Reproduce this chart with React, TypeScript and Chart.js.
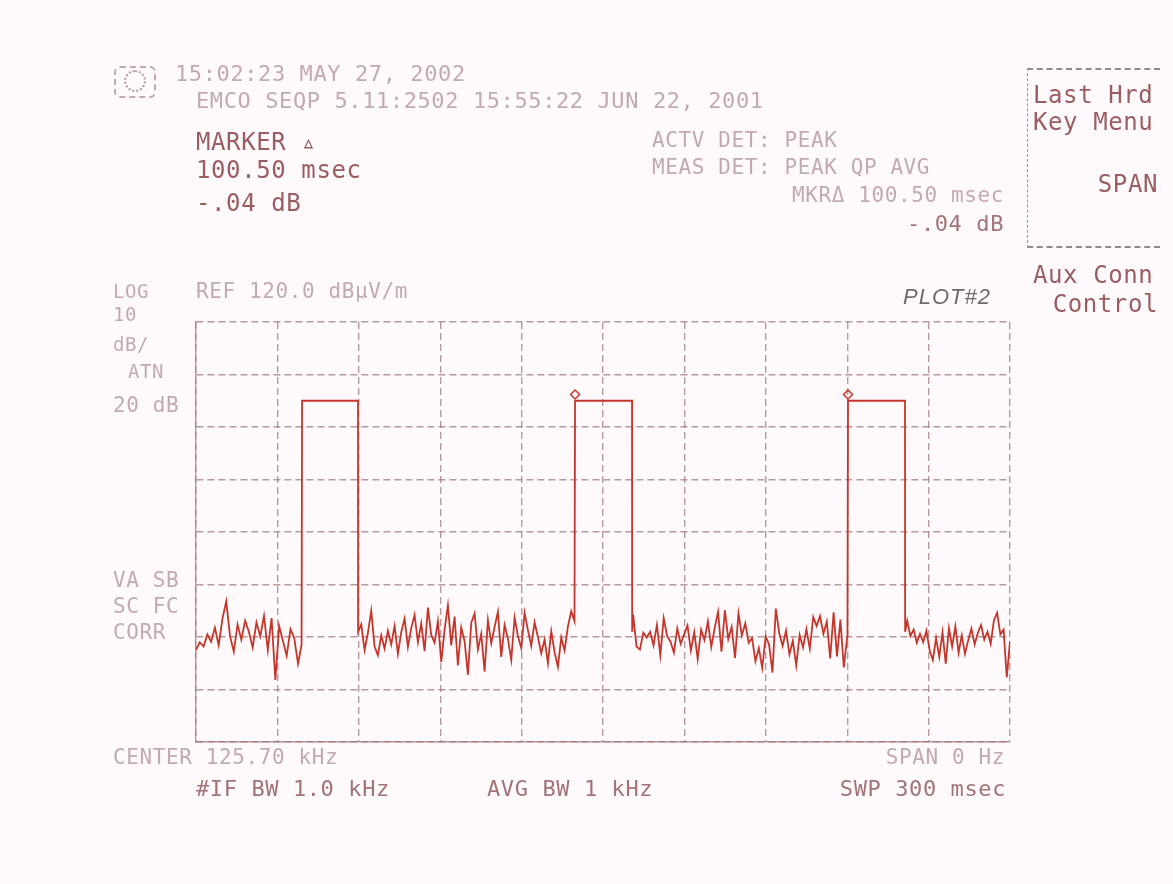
import React, { useEffect, useRef } from "react";
import { Chart, registerables } from "chart.js";

Chart.register(...registerables);

// ---- data (time in msec, level in dBµV/m) ----
const sweepMs = [0, 300];
const levelRange = [40, 120];
const xTickStep = 30;
const yTickStep = 10;

const pulseStart = [39.1, 139.7, 240.3];
const pulseEnd = [59.7, 160.7, 261.3];
const pulseLevel = 105;
const markerX = [139.7, 240.3];
const markerY = [106.2, 106.2];

const noiseBounds = [
  [0, 37.6],
  [60.9, 138.3],
  [161.1, 240.0],
  [262.1, 300],
];

const noise1 = [57.5, 59, 58.2, 60.5, 59.1, 61.8, 58.4, 63.5, 66.8, 60.2, 57.2, 62.4, 59.5, 63.1, 61.0, 58.0, 62.8, 60.1, 64.0, 57.5, 63.6, 51.8, 62.1, 59.3, 56.4, 61.5, 59.8, 54.9];
const noise2 = [62.4, 57.5, 60.8, 65.0, 58.2, 56.5, 60.3, 57.8, 61.2, 58.6, 62.1, 56.8, 60.9, 63.5, 58.1, 61.7, 64.2, 59.0, 62.6, 57.3, 65.6, 60.4, 58.9, 63.0, 55.2, 61.4, 66.0, 58.4, 63.9, 54.6, 61.8, 59.2, 52.8, 62.7, 64.5, 57.6, 60.6, 53.4, 63.2, 58.8, 61.9, 64.8, 56.2, 62.3, 59.7, 55.6, 63.7, 60.2, 57.9, 64.6, 61.3, 58.3, 62.8, 60.0, 56.9, 59.5, 55.0, 61.1, 57.1, 54.3, 59.9, 57.4, 62.0, 64.9];
const noise3 = [64.3, 58.2, 57.6, 60.8, 59.9, 61.0, 58.4, 62.3, 56.5, 63.6, 60.2, 59.1, 57.0, 61.6, 58.7, 60.5, 62.2, 57.4, 60.9, 55.8, 61.4, 59.4, 63.0, 58.1, 61.7, 64.8, 57.2, 65.1, 59.6, 61.9, 56.0, 64.5, 60.3, 62.6, 58.9, 59.8, 55.4, 57.9, 54.1, 60.1, 58.6, 53.2, 65.4, 60.7, 58.3, 61.2, 56.7, 59.3, 54.6, 60.4, 58.0, 61.5, 57.8, 63.8, 62.1, 64.0, 60.6, 62.9, 55.9, 64.7, 56.3, 63.3, 54.2, 60.0];
const noise4 = [63.1, 60.2, 61.4, 58.9, 60.6, 59.0, 61.2, 57.4, 55.6, 59.8, 56.2, 60.9, 54.9, 61.7, 58.2, 62.0, 57.0, 60.3, 56.8, 59.4, 61.6, 58.6, 60.8, 62.3, 59.5, 61.0, 58.7, 63.2, 64.6, 60.5, 61.4, 52.3, 59.2];
const noiseSegments = [noise1, noise2, noise3, noise4];
const edgeBase = [58.5, 63.0, 62.0];

// ---- build the trace from the arrays ----
function buildTrace() {
  const pts: { x: number; y: number }[] = [];
  noiseSegments.forEach((seg, i) => {
    const [s, e] = noiseBounds[i];
    seg.forEach((v, j) => {
      pts.push({ x: s + (j * (e - s)) / (seg.length - 1), y: v });
    });
    if (i < pulseStart.length) {
      pts.push({ x: pulseStart[i] - 0.2, y: edgeBase[i] });
      pts.push({ x: pulseStart[i], y: pulseLevel });
      pts.push({ x: pulseEnd[i], y: pulseLevel });
      pts.push({ x: pulseEnd[i] + 0.05, y: 61 });
    }
  });
  return pts;
}

const W = 1173;
const H = 884;
const plotLeft = 196;
const plotRight = 1010;
const plotTop = 322;
const plotBottom = 742;

const traceColor = "#c4362c";
const gridColor = "rgba(160,120,124,0.75)";
const faint = "#c2abaf";
const medium = "#a27478";
const strong = "#9a5d62";

type T = {
  text: string;
  x: number;
  y: number;
  right?: boolean;
  color?: string;
  size?: number;
  italic?: boolean;
  font?: string;
};

const texts: T[] = [
  { text: "15:02:23 MAY 27, 2002", x: 175, y: 66, color: faint, size: 22 },
  { text: "EMCO SEQP 5.11:2502 15:55:22 JUN 22, 2001", x: 196, y: 93, color: faint, size: 22 },
  { text: "MARKER \u25B5", x: 196, y: 133, color: strong, size: 24 },
  { text: "100.50 msec", x: 196, y: 161, color: strong, size: 24 },
  { text: "-.04 dB", x: 196, y: 194, color: strong, size: 24 },
  { text: "ACTV DET: PEAK", x: 652, y: 133, color: faint, size: 21 },
  { text: "MEAS DET: PEAK QP AVG", x: 652, y: 160, color: faint, size: 21 },
  { text: "MKR\u0394 100.50 msec", x: 1004, y: 188, right: true, color: faint, size: 21 },
  { text: "-.04 dB", x: 1004, y: 216, right: true, color: medium, size: 22 },
  { text: "Last Hrd", x: 1033, y: 86, color: strong, size: 24 },
  { text: "Key Menu", x: 1033, y: 113, color: strong, size: 24 },
  { text: "SPAN", x: 1158, y: 175, right: true, color: strong, size: 24 },
  { text: "Aux Conn", x: 1033, y: 266, color: strong, size: 24 },
  { text: "Control", x: 1158, y: 295, right: true, color: strong, size: 24 },
  { text: "LOG", x: 113, y: 284, color: faint, size: 19 },
  { text: "10", x: 113, y: 307, color: faint, size: 19 },
  { text: "dB/", x: 113, y: 337, color: faint, size: 19 },
  { text: "ATN", x: 128, y: 364, color: faint, size: 19 },
  { text: "20 dB", x: 113, y: 398, color: faint, size: 21 },
  { text: "REF 120.0 dB\u00B5V/m", x: 196, y: 284, color: faint, size: 21 },
  { text: "VA SB", x: 113, y: 573, color: faint, size: 21 },
  { text: "SC FC", x: 113, y: 599, color: faint, size: 21 },
  { text: "CORR", x: 113, y: 625, color: faint, size: 21 },
  { text: "CENTER 125.70 kHz", x: 113, y: 750, color: faint, size: 21 },
  { text: "SPAN 0 Hz", x: 1005, y: 750, right: true, color: faint, size: 21 },
  { text: "#IF BW 1.0 kHz", x: 196, y: 781, color: medium, size: 22 },
  { text: "AVG BW 1 kHz", x: 487, y: 781, color: medium, size: 22 },
  { text: "SWP 300 msec", x: 1006, y: 781, right: true, color: medium, size: 22 },
  { text: "PLOT#2", x: 903, y: 289, color: "#6e6a70", size: 22, italic: true, font: "'Liberation Sans', sans-serif" },
];

export default function App() {
  const ref = useRef<HTMLCanvasElement | null>(null);

  useEffect(() => {
    if (!ref.current) return;
    const chart = new Chart(ref.current, {
      type: "line",
      data: {
        datasets: [
          {
            data: buildTrace(),
            borderColor: traceColor,
            borderWidth: 1.8,
            pointRadius: 0,
            tension: 0,
            fill: false,
          },
          {
            type: "scatter",
            data: markerX.map((x, i) => ({ x, y: markerY[i] })),
            pointStyle: "rectRot",
            pointRadius: 4.5,
            borderColor: traceColor,
            backgroundColor: "rgba(255,255,255,0)",
            borderWidth: 1.5,
            showLine: false,
          } as any,
        ],
      },
      options: {
        animation: false,
        responsive: false,
        maintainAspectRatio: false,
        layout: {
          padding: {
            left: plotLeft,
            right: W - plotRight,
            top: plotTop,
            bottom: H - plotBottom,
          },
        },
        plugins: { legend: { display: false }, tooltip: { enabled: false } },
        scales: {
          x: {
            type: "linear",
            min: sweepMs[0],
            max: sweepMs[1],
            ticks: { display: false, stepSize: xTickStep },
            grid: { color: gridColor, lineWidth: 1.4, drawTicks: false },
            border: { display: true, color: gridColor, width: 1.4, dash: [7, 4] },
          },
          y: {
            type: "linear",
            min: levelRange[0],
            max: levelRange[1],
            ticks: { display: false, stepSize: yTickStep },
            grid: { color: gridColor, lineWidth: 1.4, drawTicks: false },
            border: { display: true, color: gridColor, width: 1.4, dash: [7, 4] },
          },
        },
      },
    });
    return () => chart.destroy();
  }, []);

  return (
    <div
      style={{
        position: "absolute",
        left: 0,
        top: 0,
        width: W,
        height: H,
        background: "#fefafc",
        overflow: "hidden",
      }}
    >
      <canvas ref={ref} width={W} height={H} style={{ position: "absolute", left: 0, top: 0, width: W, height: H }} />
      {/* logo */}
      <div
        style={{
          position: "absolute",
          left: 114,
          top: 66,
          width: 38,
          height: 28,
          border: "2px dashed #c2abaf",
          borderRadius: 6,
        }}
      />
      <div
        style={{
          position: "absolute",
          left: 124,
          top: 70,
          width: 18,
          height: 18,
          border: "2px dotted #b89ea3",
          borderRadius: "50%",
        }}
      />
      {/* soft-key box */}
      <div
        style={{
          position: "absolute",
          left: 1027,
          top: 68,
          width: 132,
          height: 176,
          borderTop: "2px dashed #8f8a8c",
          borderLeft: "1.5px dashed #9a9496",
          borderBottom: "2px dashed #8f8a8c",
        }}
      />
      {texts.map((t, i) => {
        const size = t.size ?? 22;
        const style: React.CSSProperties = {
          position: "absolute",
          top: t.y - Math.round(size * 0.13),
          fontFamily: t.font ?? "'DejaVu Sans Mono', monospace",
          fontSize: size,
          lineHeight: 1,
          color: t.color,
          whiteSpace: "pre",
          fontStyle: t.italic ? "italic" : "normal",
          letterSpacing: t.font ? 1 : 0.6,
        };
        if (t.right) style.right = W - t.x;
        else style.left = t.x;
        return (
          <div key={i} style={style}>
            {t.text}
          </div>
        );
      })}
    </div>
  );
}
